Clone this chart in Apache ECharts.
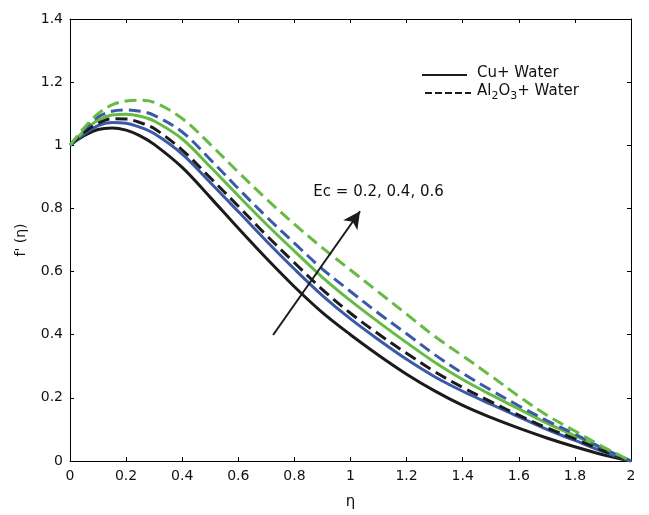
<!DOCTYPE html>
<html>
<head>
<meta charset="utf-8">
<script src="https://cdn.jsdelivr.net/npm/echarts@6/dist/echarts.min.js"></script>
<style>
html,body{margin:0;padding:0;background:#fff;}
#c{width:649px;height:515px;}
</style>
</head>
<body>
<div id="c"></div>
<script>
// eta values
var eta = [0,0.05,0.1,0.15,0.2,0.25,0.3,0.4,0.5,0.6,0.7,0.8,0.9,1.0,1.1,1.2,1.3,1.4,1.5,1.6,1.7,1.8,1.9,2.0];
// Cu + Water (solid), Ec = 0.2, 0.4, 0.6
var cuEc02 = [1,1.03,1.05,1.055,1.048,1.03,1.003,0.93,0.835,0.737,0.642,0.552,0.47,0.40,0.335,0.275,0.222,0.176,0.138,0.104,0.073,0.045,0.02,0];
var cuEc04 = [1,1.035,1.062,1.072,1.07,1.057,1.037,0.972,0.882,0.79,0.697,0.608,0.524,0.45,0.384,0.322,0.267,0.221,0.18,0.14,0.10,0.065,0.03,0];
var cuEc06 = [1,1.045,1.08,1.096,1.098,1.092,1.077,1.02,0.932,0.84,0.75,0.665,0.582,0.508,0.44,0.375,0.313,0.258,0.21,0.165,0.12,0.08,0.038,0];
// Al2O3 + Water (dashed), Ec = 0.2, 0.4, 0.6
var alEc02 = [1,1.04,1.07,1.084,1.083,1.072,1.053,0.985,0.897,0.807,0.715,0.628,0.543,0.468,0.402,0.341,0.283,0.233,0.188,0.145,0.105,0.07,0.033,0];
var alEc04 = [1,1.05,1.09,1.108,1.112,1.108,1.095,1.042,0.955,0.863,0.774,0.69,0.608,0.537,0.468,0.403,0.337,0.278,0.225,0.175,0.128,0.085,0.04,0];
var alEc06 = [1,1.055,1.10,1.128,1.14,1.143,1.136,1.085,1.003,0.915,0.83,0.75,0.675,0.605,0.535,0.465,0.395,0.333,0.27,0.205,0.145,0.095,0.045,0];
// axis ticks
var xTicks = [0,0.2,0.4,0.6,0.8,1,1.2,1.4,1.6,1.8,2];
var yTicks = [0,0.2,0.4,0.6,0.8,1,1.2,1.4];
// annotation arrow (data coords) and label
var arrowFrom = [0.724, 0.399];
var arrowTo = [1.034, 0.791];
var ecLabelPos = [1.10, 0.852];
var ecLabel = 'Ec = 0.2, 0.4, 0.6';

var BLACK = '#1b1b1b', BLUE = '#3a5aa8', GREEN = '#66bb45';
var FONT = 'DejaVu Sans';

function pts(arr){ return eta.map(function(x,i){ return [x, arr[i]]; }); }
function mk(name, arr, color, dashed){
  return {
    name: name, type: 'line', data: pts(arr), smooth: 0.35, showSymbol: false, symbol: 'none',
    lineStyle: {color: color, width: 3, type: dashed ? [12, 6] : 'solid'},
    animation: false, silent: true
  };
}
var series = [
  mk('Cu Ec0.2', cuEc02, BLACK, false),
  mk('Cu Ec0.4', cuEc04, BLUE, false),
  mk('Cu Ec0.6', cuEc06, GREEN, false),
  mk('Al Ec0.2', alEc02, BLACK, true),
  mk('Al Ec0.4', alEc04, BLUE, true),
  mk('Al Ec0.6', alEc06, GREEN, true)
];
series[0].markLine = {
  silent: true, animation: false,
  symbol: ['none', 'arrow'], symbolSize: [13, 17],
  lineStyle: {color: BLACK, width: 2, type: 'solid'},
  label: {show: false},
  data: [[{coord: arrowFrom}, {coord: arrowTo}]]
};
series[0].markPoint = {
  silent: true, animation: false, symbol: 'circle', symbolSize: 0,
  label: {show: true, position: 'inside', color: '#111', fontFamily: FONT, fontSize: 15, formatter: ecLabel},
  data: [{coord: ecLabelPos}]
};

var chart = echarts.init(document.getElementById('c'), null, {renderer: 'canvas'});
var axisCommon = {
  min: 0, interval: 0.2,
  axisLine: {show: true, onZero: false, lineStyle: {color: '#000', width: 1}},
  axisTick: {show: true, inside: true, length: 4, lineStyle: {color: '#000'}},
  splitLine: {show: false}
};
chart.setOption({
  backgroundColor: '#fff',
  animation: false,
  grid: {left: 70, right: 18, top: 19, bottom: 51, containLabel: false},
  xAxis: [
    Object.assign({}, axisCommon, {
      type: 'value', max: 2, position: 'bottom',
      name: 'η', nameLocation: 'middle', nameGap: 34,
      nameTextStyle: {fontFamily: FONT, fontSize: 15, color: '#111'},
      axisLabel: {fontFamily: FONT, fontSize: 14, color: '#111', margin: 8,
        formatter: function(v){ return xTicks.indexOf(Math.round(v*10)/10) >= 0 ? String(Math.round(v*10)/10) : ''; }}
    }),
    Object.assign({}, axisCommon, {
      type: 'value', max: 2, position: 'top', axisLabel: {show: false}
    })
  ],
  yAxis: [
    Object.assign({}, axisCommon, {
      type: 'value', max: 1.4, position: 'left',
      name: "f' (η)", nameLocation: 'middle', nameGap: 42, nameRotate: 90,
      nameTextStyle: {fontFamily: FONT, fontSize: 14, color: '#111'},
      axisLabel: {fontFamily: FONT, fontSize: 14, color: '#111', margin: 7,
        formatter: function(v){ return yTicks.indexOf(Math.round(v*10)/10) >= 0 ? String(Math.round(v*10)/10) : ''; }}
    }),
    Object.assign({}, axisCommon, {
      type: 'value', max: 1.4, position: 'right', axisLabel: {show: false}
    })
  ],
  series: series,
  graphic: [
    {type: 'line', shape: {x1: 422, y1: 75, x2: 467, y2: 75}, style: {stroke: BLACK, lineWidth: 2}},
    {type: 'text', left: 477, top: 66, style: {text: 'Cu+ Water', fontFamily: FONT, fontSize: 15, fill: '#111'}},
    {type: 'line', shape: {x1: 425, y1: 93, x2: 471, y2: 93}, style: {stroke: BLACK, lineWidth: 2, lineDash: [7, 3]}},
    {type: 'text', left: 477, top: 84, style: {
      text: 'Al{sub|2}O{sub|3}+ Water', fontFamily: FONT, fontSize: 15, fill: '#111',
      rich: {sub: {fontFamily: FONT, fontSize: 11, fill: '#111', padding: [9, 0, 0, 0]}}
    }}
  ]
});
</script>
</body>
</html>
